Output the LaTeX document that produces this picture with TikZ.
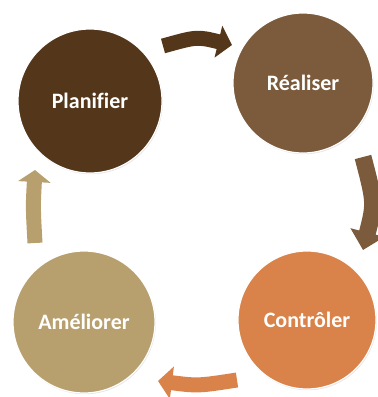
\documentclass[tikz,border=0pt]{standalone}
\usepackage{fontspec}
\setmainfont[Ligatures=NoCommon]{Carlito}
\usetikzlibrary{arrows.meta,shadows}
\definecolor{cPlan}{HTML}{54361B}
\definecolor{cReal}{HTML}{7B5B3B}
\definecolor{cCont}{HTML}{D9834A}
\definecolor{cAmel}{HTML}{B7A06E}
\tikzset{
  phase/.style={circle, inner sep=0pt, draw=white, line width=1.2pt,
    text=white, font=\fontsize{22}{26}\selectfont\bfseries,
    drop shadow={opacity=0.22, shadow xshift=0.8pt, shadow yshift=-1.2pt}},
  cyclearrow/.style={line width=15pt, -{Triangle[width=32pt,length=14pt]}},
}
\begin{document}
\begin{tikzpicture}[x=1pt,y=-1pt]
\useasboundingbox (0,0) rectangle (378,397);
\node[phase, fill=cPlan, minimum size=144pt] (plan) at (90,101) {Planifier};
\node[phase, fill=cReal, minimum size=140pt] (real) at (303,83) {Réaliser};
\node[phase, fill=cCont, minimum size=138pt] (cont) at (307,320) {Contrôler};
\node[phase, fill=cAmel, minimum size=142pt] (amel) at (84,322) {Améliorer};
% arrow ends
\coordinate (t1) at (163,46);  \coordinate (t2) at (232,45);
\coordinate (r1) at (363,157); \coordinate (r2) at (363,250);
\coordinate (b1) at (237,380); \coordinate (b2) at (158,381);
\coordinate (l1) at (35,243);  \coordinate (l2) at (35,170);
\draw[cyclearrow, cPlan] (t1) .. controls (197,36.5) .. (t2);
\draw[cyclearrow, cReal, line width=17pt, -{Triangle[width=34pt,length=18pt]}] (r1) .. controls (375,203) .. (r2);
\draw[cyclearrow, cCont] (b1) .. controls (198,386) .. (b2);
\draw[cyclearrow, cAmel, -{Triangle[width=32pt,length=12pt]}] (l1) .. controls (33,207) .. (l2);
\end{tikzpicture}
\end{document}
